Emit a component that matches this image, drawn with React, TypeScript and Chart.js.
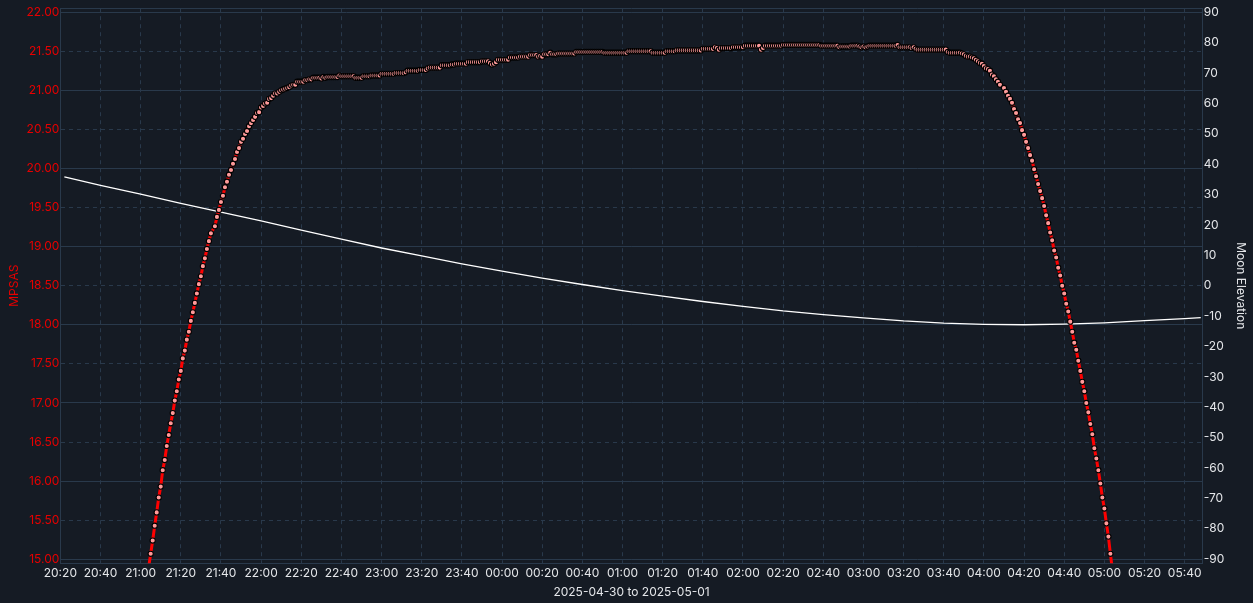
import React, { useEffect, useRef } from 'react';
import { Chart, registerables } from 'chart.js';

Chart.register(...registerables);

// ---------- axis / label data ----------
const X_TICK_LABELS = ['20:20','20:40','21:00','21:20','21:40','22:00','22:20','22:40','23:00','23:20','23:40','00:00','00:20','00:40','01:00','01:20','01:40','02:00','02:20','02:40','03:00','03:20','03:40','04:00','04:20','04:40','05:00','05:20','05:40'];
const X_RANGE = ['20:20', '05:49'];
const X_TITLE = '2025-04-30 to 2025-05-01';
const LEFT_TITLE = 'MPSAS';
const RIGHT_TITLE = 'Moon Elevation';
const MPSAS_TICKS = [15, 15.5, 16, 16.5, 17, 17.5, 18, 18.5, 19, 19.5, 20, 20.5, 21, 21.5, 22];
const MPSAS_RANGE = [14.95, 22.05];
const MOON_TICKS = [-90, -80, -70, -60, -50, -40, -30, -20, -10, 0, 10, 20, 30, 40, 50, 60, 70, 80, 90];
const MOON_RANGE = [-91.29, 91.29];

// ---------- MPSAS readings, one per minute, grouped by hour ----------
const MPSAS_HOUR_STARTS = ['21:00', '22:00', '23:00', '00:00', '01:00', '02:00', '03:00', '04:00', '05:00'];
const MPSAS_21 = [null,null,null,14.72,14.90,15.07,15.24,15.43,15.60,15.79,
  15.93,16.14,16.27,16.45,16.59,16.74,16.87,17.03,17.15,17.30,
  17.41,17.57,17.67,17.81,17.91,18.05,18.16,18.28,18.40,18.52,
  18.62,18.75,18.85,18.97,19.07,19.17,null,19.26,19.38,19.47,
  19.57,19.65,19.76,19.83,19.92,19.98,20.06,20.12,20.21,20.26,
  20.34,20.38,20.44,20.48,20.54,20.58,20.62,20.66,20.71,20.72];
const MPSAS_22 = [20.78,20.80,20.83,20.84,20.89,20.90,20.93,20.96,20.96,20.98,
  21.00,21.01,21.02,21.03,21.04,21.06,21.07,21.07,21.11,21.11,
  21.11,21.11,21.13,21.13,21.14,21.14,21.16,21.16,21.16,21.16,
  21.15,21.17,21.16,21.17,21.17,21.17,21.17,21.17,21.17,21.19,
  21.18,21.18,21.18,21.18,21.18,21.18,21.18,21.16,21.16,21.16,
  21.16,21.18,21.18,21.18,21.18,21.19,21.19,21.19,21.19,21.19];
const MPSAS_23 = [21.21,21.21,21.21,21.21,21.21,21.21,21.21,21.22,21.22,21.22,
  21.22,21.22,21.23,21.25,21.25,21.25,21.25,21.25,21.25,21.26,
  21.26,21.26,21.26,21.28,21.29,21.29,21.29,21.29,21.29,21.29,
  21.32,21.32,21.32,21.32,21.32,21.33,21.33,21.34,21.34,21.34,
  21.34,21.34,21.34,21.36,21.36,21.36,21.36,21.36,21.36,21.36,
  21.37,21.37,21.37,21.37,21.35,21.33,21.34,21.36,21.39,21.39];
const MPSAS_00 = [21.39,21.39,21.39,21.39,21.42,21.42,21.42,21.42,21.42,21.43,
  21.43,21.43,21.43,21.43,21.45,21.45,21.45,21.45,21.43,21.44,
  21.43,21.46,21.46,21.46,21.48,21.46,21.46,21.46,21.47,21.47,
  21.47,21.47,21.47,21.47,21.47,21.47,21.47,21.49,21.49,21.49,
  21.49,21.49,21.49,21.49,21.49,21.49,21.49,21.49,21.49,21.49,
  21.49,21.48,21.48,21.48,21.48,21.48,21.48,21.48,21.48,21.48];
const MPSAS_01 = [21.48,21.48,21.48,21.50,21.50,21.50,21.50,21.50,21.50,21.50,
  21.50,21.50,21.50,21.50,21.50,21.48,21.48,21.48,21.48,21.48,
  21.48,21.48,21.50,21.50,21.50,21.50,21.50,21.51,21.51,21.51,
  21.51,21.51,21.51,21.51,21.51,21.51,21.51,21.51,21.51,21.51,
  21.53,21.53,21.53,21.53,21.53,21.53,21.55,21.54,21.52,21.54,
  21.54,21.54,21.54,21.54,21.54,21.55,21.55,21.55,21.55,21.55];
const MPSAS_02 = [21.55,21.57,21.57,21.57,21.57,21.57,21.57,21.57,21.57,21.52,
  21.54,21.57,21.57,21.57,21.57,21.57,21.57,21.57,21.57,21.57,
  21.58,21.58,21.58,21.58,21.58,21.58,21.58,21.58,21.58,21.58,
  21.58,21.58,21.58,21.58,21.58,21.58,21.58,21.58,21.58,21.57,
  21.57,21.57,21.57,21.57,21.57,21.57,21.57,21.57,21.55,21.56,
  21.56,21.56,21.56,21.56,21.57,21.57,21.57,21.57,21.56,21.55];
const MPSAS_03 = [21.56,21.55,21.56,21.57,21.57,21.57,21.57,21.57,21.57,21.57,
  21.57,21.57,21.57,21.57,21.57,21.57,21.57,21.58,21.55,21.55,
  21.55,21.55,21.55,21.55,21.54,21.55,21.53,21.52,21.52,21.52,
  21.52,21.52,21.52,21.52,21.52,21.52,21.52,21.52,21.52,21.52,
  21.52,21.52,21.49,21.48,21.48,21.48,21.48,21.48,21.48,21.47,
  21.46,21.44,21.43,21.43,21.42,21.41,21.39,21.37,21.35,21.34];
const MPSAS_04 = [21.31,21.28,21.27,21.25,21.20,21.18,21.14,21.11,21.07,null,
  21.03,20.98,20.93,20.89,20.84,20.76,20.71,20.63,20.58,20.49,
  20.43,20.34,20.26,20.17,20.10,19.99,19.90,19.80,19.71,19.62,
  19.52,19.40,19.30,19.18,19.08,18.95,18.86,18.73,18.63,18.50,
  18.40,18.27,18.17,18.04,17.91,17.77,17.68,17.54,17.41,17.27,
  17.15,17.00,16.88,16.73,16.60,16.42,16.29,16.14,15.97,15.79];
const MPSAS_05 = [15.65,15.46,15.29,15.07,14.86];
const MPSAS_HOURS = [MPSAS_21, MPSAS_22, MPSAS_23, MPSAS_00, MPSAS_01, MPSAS_02, MPSAS_03, MPSAS_04, MPSAS_05];

// ---------- Moon elevation readings ----------
const MOON_TIMES = ['20:22','20:40','21:00','21:20','21:40','22:00','22:20','22:40','23:00','23:20','23:40','00:00','00:20','00:40','01:00','01:20','01:40','02:00','02:20','02:40','03:00','03:20','03:40','04:00','04:20','04:40','05:00','05:20','05:40','05:48'];
const MOON_VALUES = [35.8,33.0,30.1,27.1,24.2,21.3,18.3,15.3,12.4,9.8,7.2,4.8,2.5,0.4,-1.6,-3.4,-5.2,-6.8,-8.3,-9.5,-10.6,-11.6,-12.3,-12.7,-12.85,-12.65,-12.2,-11.5,-10.8,-10.5];

// ---------- styling ----------
const BG = '#151b24';
const GRID = '#29394b';
const RED = '#e60000';
const LIGHT = '#e4e6e9';
const FONT = 'Inter';

// minutes since 20:00 (the night wraps past midnight)
function toMinutes(label: string): number {
  const [h, m] = label.split(':').map(Number);
  return (h * 60 + m - 20 * 60 + 1440) % 1440;
}

const X_LABEL_BY_VALUE = new Map<number, string>(X_TICK_LABELS.map((l) => [toMinutes(l), l]));

function buildMpsas() {
  const pts: { x: number; y: number | null }[] = [];
  MPSAS_HOURS.forEach((arr, hi) => {
    const start = toMinutes(MPSAS_HOUR_STARTS[hi]);
    arr.forEach((v, i) => pts.push({ x: start + i, y: v }));
  });
  return pts;
}

function buildMoon() {
  return MOON_TIMES.map((t, i) => ({ x: toMinutes(t), y: MOON_VALUES[i] }));
}

const topBorder = {
  id: 'topBorder',
  beforeDatasetsDraw(chart: any) {
    const { ctx, chartArea } = chart;
    const y = Math.round(chartArea.top) + 0.5;
    ctx.save();
    ctx.strokeStyle = GRID;
    ctx.lineWidth = 1;
    ctx.beginPath();
    ctx.moveTo(chartArea.left, y);
    ctx.lineTo(chartArea.right, y);
    ctx.stroke();
    ctx.restore();
  },
};

export default function App() {
  const canvasRef = useRef<HTMLCanvasElement | null>(null);

  useEffect(() => {
    if (!canvasRef.current) return;
    Chart.defaults.font.family = FONT;
    Chart.defaults.font.size = 12;

    const chart = new Chart(canvasRef.current, {
      type: 'line',
      data: {
        datasets: [
          {
            label: 'MPSAS',
            data: buildMpsas() as any,
            yAxisID: 'y',
            borderColor: '#ff0000',
            borderWidth: 3,
            pointRadius: 2.6,
            pointBorderWidth: 1.1,
            pointBorderColor: '#000000',
            pointBackgroundColor: '#ff9a9a',
            spanGaps: true,
            tension: 0,
          },
          {
            label: 'Moon Elevation',
            data: buildMoon() as any,
            yAxisID: 'y1',
            borderColor: '#ffffff',
            borderWidth: 1.3,
            pointRadius: 0,
            tension: 0,
          },
        ],
      },
      options: {
        animation: false,
        responsive: true,
        maintainAspectRatio: false,
        layout: { padding: { left: 4, right: 1, top: 0, bottom: 1 } },
        plugins: {
          legend: { display: false },
          tooltip: { enabled: false },
        },
        scales: {
          x: {
            type: 'linear',
            min: toMinutes(X_RANGE[0]),
            max: toMinutes(X_RANGE[1]),
            afterBuildTicks: (scale: any) => {
              scale.ticks = X_TICK_LABELS.map((l) => ({ value: toMinutes(l) }));
            },
            ticks: {
              color: LIGHT,
              autoSkip: false,
              maxRotation: 0,
              padding: 3,
              callback: (v: any) => X_LABEL_BY_VALUE.get(Number(v)) ?? '',
            },
            grid: { color: GRID, drawTicks: false },
            border: { color: GRID, dash: [4, 4] },
            title: { display: true, text: X_TITLE, color: LIGHT, padding: { top: 2, bottom: 2 } },
          },
          y: {
            type: 'linear',
            position: 'left',
            min: MPSAS_RANGE[0],
            max: MPSAS_RANGE[1],
            afterBuildTicks: (scale: any) => {
              scale.ticks = MPSAS_TICKS.map((v) => ({ value: v }));
            },
            ticks: {
              color: RED,
              padding: 1,
              callback: (v: any) => Number(v).toFixed(2),
            },
            grid: { color: GRID, drawTicks: false },
            border: {
              color: GRID,
              dash: (ctx: any) => (ctx.tick && ctx.tick.value % 1 !== 0 ? [4, 4] : []),
            },
            title: { display: true, text: LEFT_TITLE, color: RED, padding: { top: 3, bottom: 4 } },
          },
          y1: {
            type: 'linear',
            position: 'right',
            min: MOON_RANGE[0],
            max: MOON_RANGE[1],
            afterBuildTicks: (scale: any) => {
              scale.ticks = MOON_TICKS.map((v) => ({ value: v }));
            },
            ticks: { color: LIGHT, padding: 1 },
            grid: { drawOnChartArea: false, drawTicks: false },
            border: { color: GRID },
            title: { display: true, text: RIGHT_TITLE, color: LIGHT, padding: { top: 4, bottom: 8 } },
          },
        },
      } as any,
      plugins: [topBorder],
    });

    return () => chart.destroy();
  }, []);

  return (
    <div style={{ position: 'fixed', left: 0, top: 0, width: '100vw', height: '100vh', background: BG }}>
      <canvas ref={canvasRef} />
    </div>
  );
}
